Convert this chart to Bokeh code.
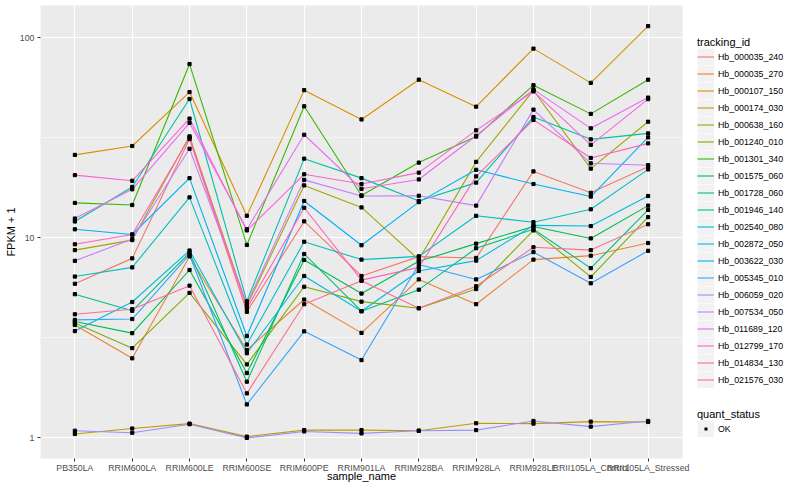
from bokeh.plotting import figure
from bokeh.layouts import row
from bokeh.models import FactorRange, Range1d, FixedTicker, Legend, LegendItem
from bokeh.embed import file_html
from bokeh.resources import INLINE

samples = ["PB350LA", "RRIM600LA", "RRIM600LE", "RRIM600SE", "RRIM600PE", "RRIM901LA",
           "RRIM928BA", "RRIM928LA", "RRIM928LE", "RRII105LA_Control", "RRII105LA_Stressed"]

# FPKM + 1 per sample
hb_000035_240 = [5.9, 7.9, 31.2, 4.27, 12.1, 6.45, 8.06, 7.94, 21.5, 16.8, 22.7]
hb_000035_270 = [3.67, 2.50, 8.08, 2.75, 4.92, 3.35, 6.20, 4.66, 7.79, 8.15, 9.43]
hb_000107_150 = [26.0, 28.8, 53.6, 12.9, 54.8, 39.1, 61.8, 45.3, 88.4, 59.6, 114.5]
hb_000174_030 = [1.046, 1.114, 1.179, 1.015, 1.094, 1.094, 1.086, 1.184, 1.179, 1.206, 1.201]
hb_000638_160 = [8.69, 9.75, 32.2, 4.57, 18.3, 14.2, 7.79, 24.0, 54.6, 22.2, 38.1]
hb_001240_010 = [3.75, 2.81, 5.31, 2.33, 5.70, 4.80, 4.45, 5.55, 10.9, 6.38, 12.7]
hb_001301_340 = [14.96, 14.6, 74.0, 9.22, 45.5, 16.3, 23.8, 32.1, 58.0, 41.7, 61.8]
hb_001575_060 = [3.82, 3.34, 6.91, 2.11, 7.76, 5.27, 7.64, 9.36, 11.4, 9.94, 14.5]
hb_001728_060 = [5.23, 4.32, 8.43, 1.91, 8.31, 4.30, 5.51, 8.88, 11.04, 7.06, 13.8]
hb_001946_140 = [12.08, 17.98, 49.5, 4.82, 24.9, 19.9, 15.3, 18.9, 40.2, 31.1, 33.3]
hb_002540_080 = [6.41, 7.12, 15.95, 2.93, 9.57, 7.79, 8.08, 12.9, 11.98, 13.9, 22.0]
hb_002872_050 = [3.42, 4.78, 8.65, 2.65, 6.45, 4.30, 6.83, 7.70, 11.55, 11.46, 16.2]
hb_003622_030 = [11.04, 10.4, 19.9, 3.23, 15.3, 9.19, 15.1, 21.9, 18.6, 16.1, 31.8]
hb_005345_010 = [3.89, 3.93, 8.24, 1.47, 3.41, 2.45, 7.36, 6.20, 8.49, 5.93, 8.62]
hb_006059_020 = [1.086, 1.061, 1.171, 1.0, 1.077, 1.053, 1.086, 1.094, 1.215, 1.139, 1.215]
hb_007534_050 = [7.68, 9.87, 27.9, 4.69, 19.5, 16.2, 16.25, 14.5, 43.8, 23.6, 23.1]
hb_011689_120 = [12.5, 17.5, 37.6, 11.04, 32.8, 17.6, 19.6, 32.4, 55.3, 35.3, 50.3]
hb_012799_170 = [20.6, 19.3, 39.5, 10.9, 20.8, 18.6, 21.2, 34.5, 54.0, 29.2, 49.4]
hb_014834_130 = [9.29, 10.4, 31.8, 4.44, 14.15, 6.15, 7.12, 20.3, 38.9, 25.1, 29.7]
hb_021576_030 = [4.15, 4.40, 5.77, 1.67, 4.66, 6.10, 4.45, 5.73, 8.98, 8.69, 11.7]

tracking_ids = ["Hb_000035_240", "Hb_000035_270", "Hb_000107_150", "Hb_000174_030",
                "Hb_000638_160", "Hb_001240_010", "Hb_001301_340", "Hb_001575_060",
                "Hb_001728_060", "Hb_001946_140", "Hb_002540_080", "Hb_002872_050",
                "Hb_003622_030", "Hb_005345_010", "Hb_006059_020", "Hb_007534_050",
                "Hb_011689_120", "Hb_012799_170", "Hb_014834_130", "Hb_021576_030"]
series = [hb_000035_240, hb_000035_270, hb_000107_150, hb_000174_030, hb_000638_160,
          hb_001240_010, hb_001301_340, hb_001575_060, hb_001728_060, hb_001946_140,
          hb_002540_080, hb_002872_050, hb_003622_030, hb_005345_010, hb_006059_020,
          hb_007534_050, hb_011689_120, hb_012799_170, hb_014834_130, hb_021576_030]
quant_status = ["OK"]

y_ticks = [1, 10, 100]
y_minor = [10 ** 0.5, 10 ** 1.5]

palette = ["#F8766D", "#EA8331", "#D89000", "#C09B00", "#A3A500", "#7CAE00", "#39B600",
           "#00BB4E", "#00BF7D", "#00C1A3", "#00BFC4", "#00BAE0", "#00B0F6", "#35A2FF",
           "#9590FF", "#C77CFF", "#E76BF3", "#FA62DB", "#FF62BC", "#FF6C91"]

FONT = "Liberation Sans"

# ---------------- main panel ----------------
p = figure(width=690, height=484,
           x_range=FactorRange(factors=samples, range_padding=0.1, range_padding_units="absolute"),
           y_range=Range1d(10 ** -0.103, 10 ** 2.162), y_axis_type="log",
           output_backend="svg", toolbar_location=None, title=None,
           min_border_left=40, min_border_right=8, min_border_top=5, min_border_bottom=26)

p.background_fill_color = "#EBEBEB"
p.border_fill_color = "white"
p.outline_line_color = None

for ax in (p.xaxis, p.yaxis):
    ax.axis_line_color = None
    ax.major_tick_line_color = "#333333"
    ax.major_tick_out = 3
    ax.major_tick_in = 0
    ax.minor_tick_line_color = None
    ax.major_label_text_font_size = "8.8px"
    ax.major_label_text_color = "#4D4D4D"
    ax.major_label_text_font = FONT
    ax.major_label_standoff = 2
    ax.axis_label_text_font_size = "11px"
    ax.axis_label_text_font_style = "normal"
    ax.axis_label_text_font = FONT
    ax.axis_label_text_color = "black"
    ax.axis_label_standoff = 0

p.xaxis.axis_label = "sample_name"
p.yaxis.axis_label = "FPKM + 1"
p.xaxis.major_label_standoff = 1
p.xaxis.axis_label_standoff = -6

p.yaxis.ticker = FixedTicker(ticks=y_ticks, minor_ticks=y_minor)
p.yaxis.major_label_overrides = {t: str(t) for t in y_ticks}

p.xgrid.grid_line_color = "white"
p.xgrid.grid_line_width = 1.1
p.ygrid.grid_line_color = "white"
p.ygrid.grid_line_width = 1.1
p.ygrid.minor_grid_line_color = "white"
p.ygrid.minor_grid_line_width = 0.55

for vals, col in zip(series, palette):
    p.line(x=samples, y=vals, line_color=col, line_width=1.1)

for vals in series:
    p.scatter(x=samples, y=vals, marker="square", size=3.2, color="black")

# ---------------- legend panel ----------------
lg = figure(width=94, height=484, x_range=Range1d(0, 1), y_range=Range1d(0, 1),
            x_axis_location=None, y_axis_location=None,
            output_backend="svg", toolbar_location=None, title=None,
            min_border_left=0, min_border_right=0, min_border_top=0, min_border_bottom=0)
lg.grid.visible = False
lg.outline_line_color = None
lg.background_fill_color = "white"
lg.border_fill_color = "white"

# off-screen points: these renderers only provide the legend keys
off_x = [5, 6]
off_y = [5, 6]
key_bg = lg.line(x=off_x, y=off_y, line_color="#F2F2F2", line_width=17)
key_lines = [lg.line(x=off_x, y=off_y, line_color=col, line_width=1.1) for col in palette]
ok_key = lg.line(x=off_x, y=off_y, line_color="black", line_width=3, line_dash="0 7 3 100")

common = dict(glyph_width=17, glyph_height=17, label_height=17, spacing=0, padding=0, margin=0,
              label_standoff=4, label_text_font_size="8.8px", label_text_font=FONT,
              label_text_color="black",
              title_text_font_size="11px", title_text_font_style="normal", title_text_font=FONT,
              title_text_color="black",
              title_standoff=0, background_fill_alpha=0, border_line_color=None)

items = [LegendItem(label=tid, renderers=[key_bg, r]) for tid, r in zip(tracking_ids, key_lines)]
leg1 = Legend(items=items, location=(7, 70), title="tracking_id", **common)
lg.add_layout(leg1)

leg2 = Legend(items=[LegendItem(label=quant_status[0], renderers=[key_bg, ok_key])],
              location=(7, 21), title="quant_status", **common)
lg.add_layout(leg2)

open("out.html", "w").write(file_html(row(p, lg), INLINE))
